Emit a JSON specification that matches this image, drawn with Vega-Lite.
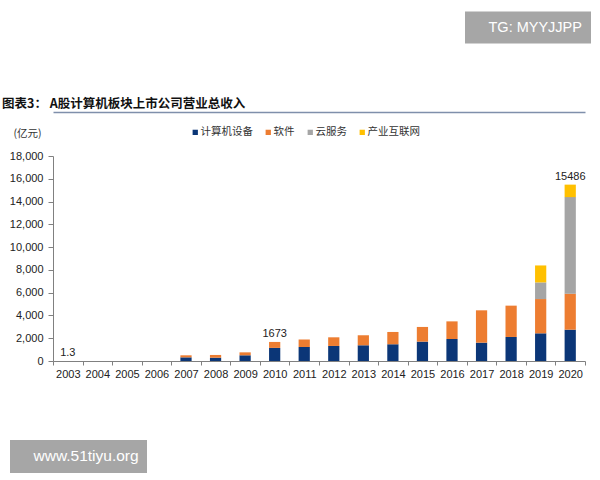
{
  "$schema": "https://vega.github.io/schema/vega-lite/v6.json",
  "width": 532,
  "height": 205,
  "autosize": "none",
  "padding": {"left": 53, "top": 156, "right": 15, "bottom": 119},
  "background": "white",
  "title": {
    "text": "图表3：  A股计算机板块上市公司营业总收入",
    "anchor": "start",
    "frame": "group",
    "dx": -51,
    "dy": 103,
    "offset": 4,
    "font": "Noto Sans CJK SC",
    "fontSize": 12.5,
    "fontWeight": "bold",
    "color": "#111111"
  },
  "datasets": {
    "revenue": [
      {"year": "2003", "segment": "计算机设备", "value": 1.3},
      {"year": "2004", "segment": "计算机设备", "value": 0},
      {"year": "2005", "segment": "计算机设备", "value": 0},
      {"year": "2006", "segment": "计算机设备", "value": 0},
      {"year": "2007", "segment": "计算机设备", "value": 320},
      {"year": "2007", "segment": "软件", "value": 180},
      {"year": "2008", "segment": "计算机设备", "value": 290},
      {"year": "2008", "segment": "软件", "value": 240},
      {"year": "2009", "segment": "计算机设备", "value": 500},
      {"year": "2009", "segment": "软件", "value": 260},
      {"year": "2010", "segment": "计算机设备", "value": 1150},
      {"year": "2010", "segment": "软件", "value": 523},
      {"year": "2011", "segment": "计算机设备", "value": 1230},
      {"year": "2011", "segment": "软件", "value": 650},
      {"year": "2012", "segment": "计算机设备", "value": 1320},
      {"year": "2012", "segment": "软件", "value": 760},
      {"year": "2013", "segment": "计算机设备", "value": 1380},
      {"year": "2013", "segment": "软件", "value": 880},
      {"year": "2014", "segment": "计算机设备", "value": 1470},
      {"year": "2014", "segment": "软件", "value": 1080},
      {"year": "2015", "segment": "计算机设备", "value": 1700},
      {"year": "2015", "segment": "软件", "value": 1290},
      {"year": "2016", "segment": "计算机设备", "value": 1930},
      {"year": "2016", "segment": "软件", "value": 1550},
      {"year": "2017", "segment": "计算机设备", "value": 1610},
      {"year": "2017", "segment": "软件", "value": 2840},
      {"year": "2018", "segment": "计算机设备", "value": 2110},
      {"year": "2018", "segment": "软件", "value": 2750},
      {"year": "2019", "segment": "计算机设备", "value": 2430},
      {"year": "2019", "segment": "软件", "value": 3010},
      {"year": "2019", "segment": "云服务", "value": 1460},
      {"year": "2019", "segment": "产业互联网", "value": 1490},
      {"year": "2020", "segment": "计算机设备", "value": 2750},
      {"year": "2020", "segment": "软件", "value": 3160},
      {"year": "2020", "segment": "云服务", "value": 8480},
      {"year": "2020", "segment": "产业互联网", "value": 1096}
    ],
    "totals": [
      {"year": "2003", "value": 1.3, "label": "1.3"},
      {"year": "2010", "value": 1673, "label": "1673"},
      {"year": "2020", "value": 15486, "label": "15486"}
    ]
  },
  "encoding": {
    "y": {
      "field": "value",
      "type": "quantitative",
      "scale": {"domain": [0, 18000]},
      "axis": {
        "values": [0, 2000, 4000, 6000, 8000, 10000, 12000, 14000, 16000, 18000],
        "format": ",d",
        "grid": false,
        "labelOverlap": false,
        "tickSize": 5,
        "labelPadding": 5,
        "labelFontSize": 11,
        "labelColor": "#222222",
        "title": "(亿元)",
        "titleAngle": 0,
        "titleX": -40,
        "titleY": -23,
        "titleAlign": "left",
        "titleBaseline": "middle",
        "titleFont": "Noto Sans CJK SC",
        "titleFontSize": 10.5,
        "titleFontWeight": "normal",
        "titleColor": "#333333"
      }
    }
  },
  "layer": [
    {
      "data": {"name": "revenue"},
      "transform": [
        {"calculate": "indexof(['计算机设备', '软件', '云服务', '产业互联网'], datum.segment)", "as": "stackIdx"}
      ],
      "mark": {"type": "bar", "width": {"band": 0.38}},
      "encoding": {
        "x": {
          "field": "year",
          "type": "nominal",
          "scale": {"paddingInner": 0, "paddingOuter": 0},
          "axis": {
            "title": null,
            "labelAngle": 0,
            "tickBand": "extent",
            "tickSize": 4,
            "labelPadding": 3,
            "labelFontSize": 11,
            "labelColor": "#222222"
          }
        },
        "color": {
          "field": "segment",
          "type": "nominal",
          "sort": ["计算机设备", "软件", "云服务", "产业互联网"],
          "scale": {
            "domain": ["计算机设备", "软件", "云服务", "产业互联网"],
            "range": ["#0b3677", "#ed7d31", "#a5a5a5", "#ffc000"]
          },
          "legend": {
            "title": null,
            "orient": "none",
            "direction": "horizontal",
            "legendX": 137,
            "legendY": -29,
            "symbolType": "square",
            "symbolSize": 28,
            "symbolStrokeWidth": 0,
            "labelOffset": 0,
            "columnPadding": 10,
            "labelFont": "Noto Sans CJK SC",
            "labelFontSize": 10.5,
            "labelColor": "#333333"
          }
        },
        "order": {"field": "stackIdx", "type": "quantitative", "sort": "ascending"}
      }
    },
    {
      "data": {"name": "totals"},
      "mark": {"type": "text", "dy": -8, "fontSize": 11, "color": "#222222"},
      "encoding": {
        "x": {
          "field": "year",
          "type": "nominal",
          "axis": {
            "orient": "top",
            "offset": 44,
            "labels": false,
            "ticks": false,
            "title": null,
            "domainColor": "#7f8fab",
            "domainWidth": 1.5
          }
        },
        "text": {"field": "label"}
      }
    },
    {
      "data": {"name": "totals"},
      "mark": {"type": "point", "opacity": 0},
      "encoding": {
        "x": {"field": "year", "type": "nominal", "axis": null},
        "shape": {
          "datum": "TG: MYYJJPP",
          "type": "nominal",
          "legend": {
            "title": null,
            "orient": "none",
            "legendX": 412,
            "legendY": -144.5,
            "fillColor": "#a6a6a6",
            "padding": 9,
            "symbolOpacity": 0,
            "symbolSize": 0,
            "symbolStrokeWidth": 0,
            "labelOffset": 0,
            "labelFontSize": 14.5,
            "labelColor": "white",
            "labelFont": "Liberation Sans"
          }
        },
        "strokeDash": {
          "datum": "www.51tiyu.org",
          "type": "nominal",
          "legend": {
            "title": null,
            "orient": "none",
            "legendX": -43,
            "legendY": 284,
            "fillColor": "#a6a6a6",
            "padding": 8,
            "symbolOpacity": 0,
            "symbolSize": 0,
            "symbolStrokeWidth": 0,
            "labelOffset": 0,
            "labelFontSize": 15.5,
            "labelColor": "white",
            "labelFont": "Liberation Sans"
          }
        }
      }
    }
  ],
  "resolve": {"axis": {"x": "independent"}},
  "config": {
    "view": {"stroke": null},
    "font": "Liberation Sans",
    "axis": {
      "labelFont": "Liberation Sans",
      "domainColor": "#808080",
      "tickColor": "#808080"
    },
    "axisY": {"labelOverlap": false}
  }
}
